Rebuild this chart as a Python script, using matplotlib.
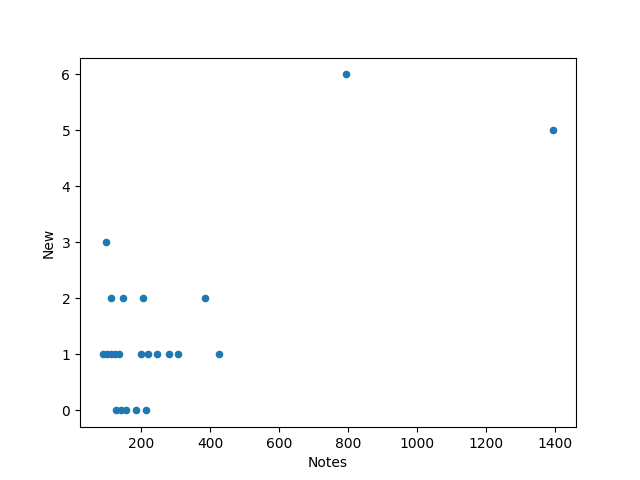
import pandas as pd
import matplotlib
matplotlib.use("Agg")
import matplotlib.pyplot as plt

notes = [99, 113, 146, 204, 386,
         88, 100, 112, 124, 135, 199, 220, 247, 281, 306, 425,
         127, 141, 157, 186, 213,
         793, 1395]
new = [3, 2, 2, 2, 2,
       1, 1, 1, 1, 1, 1, 1, 1, 1, 1, 1,
       0, 0, 0, 0, 0,
       6, 5]

df = pd.DataFrame({'Notes': notes, 'New': new})

ax = df.plot.scatter(x='Notes', y='New', figsize=(6.4, 4.8))
plt.savefig('out.png', dpi=100)
